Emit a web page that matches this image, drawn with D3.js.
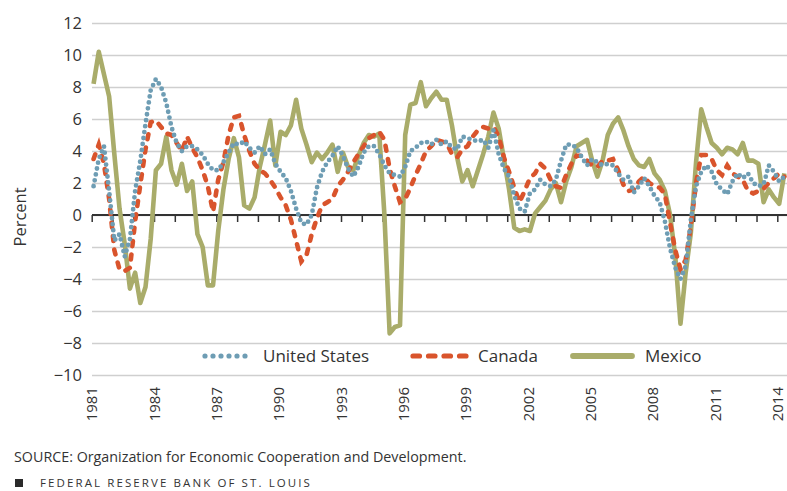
<!DOCTYPE html>
<html><head><meta charset="utf-8">
<script src="https://cdn.jsdelivr.net/npm/d3@7"></script>
<style>
body{margin:0;background:#fff}
svg{display:block}
text{font-family:"Open Sans",sans-serif;fill:#333}
</style>
</head><body>
<svg id="chart" width="787" height="491"></svg>
<script>
// Quarterly real GDP growth, year over year, percent. 1981Q1 ... 2014Q2
const startYear = 1981;
const usGrowth = [
 1.8,3.5,4.3,1.5, -1.6,-1.2,-2.6,-1.5, 1.5,3.4,5.7,7.8, 8.5,8.0,7.0,5.5,
 4.5,4.0,4.3,4.3, 4.1,3.75,3.2,2.8, 2.8,3.3,3.9,4.5, 4.4,4.6,4.2,3.9,
 4.3,3.8,4.1,3.2, 2.7,2.3,1.5,0.4, -0.5,-0.6,0.0,1.7, 2.7,3.3,3.7,4.3,
 3.7,2.9,2.4,3.0, 3.9,4.3,4.3,3.8, 3.1,2.6,2.5,2.4, 3.0,4.0,4.2,4.5,
 4.6,4.4,4.7,4.4, 4.6,4.2,4.1,4.9, 4.8,4.7,4.6,4.7, 4.2,5.3,3.8,2.9,
 2.4,1.2,0.4,0.2, 1.35,1.6,2.2,1.9, 1.8,2.2,3.4,4.4, 4.4,4.2,3.6,3.1,
 3.5,3.3,3.1,3.2, 3.1,2.6,2.2,2.4, 1.4,1.8,2.3,1.8, 1.2,0.8,-0.4,-2.1,
 -3.3,-4.0,-3.2,-0.3, 1.8,2.7,3.1,2.7, 1.9,1.6,1.3,2.1, 2.6,2.3,2.6,2.0,
 1.8,1.9,3.1,2.7, 2.1,2.4
];
const canadaGrowth = [
 3.5,4.4,3.2,1.0, -2.2,-3.4,-3.5,-3.3, -0.4,1.9,4.1,5.8, 5.9,5.5,5.1,5.0,
 4.5,4.0,4.9,4.2, 3.6,2.8,1.8,0.2, 2.2,3.3,5.0,6.1, 6.2,5.0,4.0,3.2,
 2.8,2.6,2.2,1.7, 1.1,0.6,-0.3,-1.6, -2.9,-2.5,-1.2,-0.2, 0.6,0.8,1.0,1.8,
 2.2,2.7,3.3,3.8, 4.3,4.8,5.0,5.2, 4.7,2.9,1.8,0.8, 1.0,1.7,2.5,3.2,
 4.0,4.3,4.7,4.6, 4.5,3.8,3.6,4.1, 4.3,4.9,5.3,5.5, 5.4,5.5,4.9,3.6,
 2.7,1.7,0.8,1.5, 2.3,2.6,3.2,2.9, 2.2,1.8,1.7,2.5, 3.2,3.7,3.7,3.4,
 3.1,3.0,3.4,3.4, 3.5,2.8,1.9,1.5, 1.6,2.1,2.4,2.0, 1.8,1.7,1.3,-0.5,
 -2.2,-3.4,-2.8,-0.7, 2.0,3.75,3.75,3.5, 2.8,2.5,3.1,2.6, 2.4,2.2,1.5,1.35,
 1.5,1.65,2.0,2.3, 2.6,2.4
];
const mexicoGrowth = [
 8.2,10.2,8.8,7.4, 3.8,0.4,-1.8,-4.6, -3.6,-5.5,-4.5,-1.5, 2.8,3.2,4.9,2.8,
 1.9,3.2,1.5,2.1, -1.2,-2.0,-4.4,-4.4, -1.0,1.6,3.5,4.8, 3.6,0.6,0.4,1.1,
 3.0,4.4,5.9,3.1, 5.2,5.0,5.6,7.2, 5.4,4.4,3.3,3.9, 3.5,3.9,4.4,2.7,
 3.9,3.0,2.8,3.7, 4.5,5.0,4.9,5.1, 0.0,-7.4,-7.0,-6.9, 5.0,6.9,7.0,8.3,
 6.8,7.3,7.7,7.2, 7.2,5.6,3.6,2.1, 2.8,1.8,2.8,3.8, 4.9,6.4,5.4,3.5,
 1.6,-0.8,-1.0,-0.9, -1.0,0.1,0.5,0.9, 1.6,2.0,0.8,2.1, 3.0,4.3,4.5,4.7,
 3.4,2.4,3.4,5.0, 5.7,6.1,5.3,4.3, 3.5,3.1,3.0,3.5, 2.6,2.2,1.5,0.0,
 -2.6,-6.8,-3.6,-1.1, 3.3,6.6,5.5,4.5, 4.2,3.8,4.2,4.1, 3.8,4.5,3.4,3.4,
 3.2,0.8,1.6,1.1, 0.7,2.6
];
const seriesNames = ["United States", "Canada", "Mexico"];
const yTicks = [-10,-8,-6,-4,-2,0,2,4,6,8,10,12];
const yearTicks = [1981,1984,1987,1990,1993,1996,1999,2002,2005,2008,2011,2014];
const yearMinorTicks = d3.range(1981, 2015);

const left = 92, right = 787;
const svg = d3.select("#chart");

const x = d3.scaleLinear().domain([1981, 2014]).range([91.7, 777.3]);
const y = d3.scaleLinear().domain([-10, 12]).range([375, 23]);
const tOf = i => startYear + i / 4 + 0.09;

svg.append("defs").append("clipPath").attr("id", "plotclip")
  .append("rect").attr("x", left - 3).attr("y", 0).attr("width", right - left + 3).attr("height", 400);

// gridlines + y labels
const yAxis = svg.append("g").attr("transform", `translate(${left},0)`)
  .call(d3.axisLeft(y).tickValues(yTicks).tickSize(-(right - left)).tickPadding(10)
    .tickFormat(d3.format("d")));
yAxis.select(".domain").remove();
yAxis.selectAll(".tick line").attr("stroke", "#cfcfcf").attr("stroke-width", 1.7);
yAxis.selectAll(".tick text").attr("font-size", 16.5).attr("fill", "#333")
  .style("font-family", '"Open Sans",sans-serif');

// x year labels below plot
const xAxis = svg.append("g").attr("transform", `translate(0,${y(-10)})`)
  .call(d3.axisBottom(x).tickValues(yearTicks).tickSize(0).tickFormat(d3.format("d")));
xAxis.select(".domain").remove();
xAxis.selectAll(".tick text")
  .attr("transform", "rotate(-90)")
  .attr("text-anchor", "end")
  .attr("x", -12).attr("y", 0).attr("dy", "0.35em")
  .attr("font-size", 15).attr("fill", "#333")
  .style("font-family", '"Open Sans",sans-serif');

// zero line with yearly ticks
svg.append("line").attr("x1", left).attr("x2", right)
  .attr("y1", y(0)).attr("y2", y(0)).attr("stroke", "#333").attr("stroke-width", 2.2);
const zt = svg.append("g").attr("transform", `translate(0,${y(0)})`)
  .call(d3.axisBottom(x).tickValues(yearMinorTicks).tickSize(7).tickSizeOuter(0).tickFormat(""));
zt.select(".domain").remove();
zt.selectAll(".tick line").attr("stroke", "#333").attr("stroke-width", 1.5);

// lines
const line = d3.line().x((d, i) => x(tOf(i))).y(d => y(d));
const g = svg.append("g").attr("clip-path", "url(#plotclip)");
g.append("path").datum(mexicoGrowth).attr("d", line)
  .attr("fill", "none").attr("stroke", "#a9ac6a").attr("stroke-width", 4.6)
  .attr("stroke-linejoin", "round");
g.append("path").datum(canadaGrowth).attr("d", line)
  .attr("fill", "none").attr("stroke", "#d9542c").attr("stroke-width", 4.6)
  .attr("stroke-dasharray", "5 8.5").attr("stroke-linecap", "round");
g.append("path").datum(usGrowth).attr("d", line)
  .attr("fill", "none").attr("stroke", "#6e9db4").attr("stroke-width", 4.8)
  .attr("stroke-dasharray", "0 6").attr("stroke-linecap", "round");

// legend
const ly = 356;
const leg = svg.append("g");
leg.append("line").attr("x1", 205).attr("x2", 253).attr("y1", ly).attr("y2", ly)
  .attr("stroke", "#6e9db4").attr("stroke-width", 5.2).attr("stroke-linecap", "round")
  .attr("stroke-dasharray", "0 8");
leg.append("text").attr("x", 263).attr("y", ly).attr("dy", "0.36em").attr("font-size", 17).text(seriesNames[0]);
leg.append("line").attr("x1", 413).attr("x2", 466).attr("y1", ly).attr("y2", ly)
  .attr("stroke", "#d9542c").attr("stroke-width", 5.2).attr("stroke-linecap", "round")
  .attr("stroke-dasharray", "6.5 9");
leg.append("text").attr("x", 478).attr("y", ly).attr("dy", "0.36em").attr("font-size", 17).text(seriesNames[1]);
leg.append("line").attr("x1", 573).attr("x2", 632).attr("y1", ly).attr("y2", ly)
  .attr("stroke", "#a9ac6a").attr("stroke-width", 5.8).attr("stroke-linecap", "round");
leg.append("text").attr("x", 645).attr("y", ly).attr("dy", "0.36em").attr("font-size", 17).text(seriesNames[2]);

// y label
svg.append("text").attr("transform", `translate(26,217) rotate(-90)`)
  .attr("text-anchor", "middle").attr("font-size", 16.5).text("Percent");

// footer
svg.append("text").attr("x", 14).attr("y", 462).attr("font-size", 14.3)
  .text("SOURCE: Organization for Economic Cooperation and Development.");
svg.append("rect").attr("x", 15).attr("y", 479).attr("width", 8).attr("height", 8).attr("fill", "#2a2a2a");
svg.append("text").attr("x", 40).attr("y", 487).attr("font-size", 11.5)
  .attr("letter-spacing", 2.1).text("FEDERAL RESERVE BANK OF ST. LOUIS");
</script>
</body></html>
